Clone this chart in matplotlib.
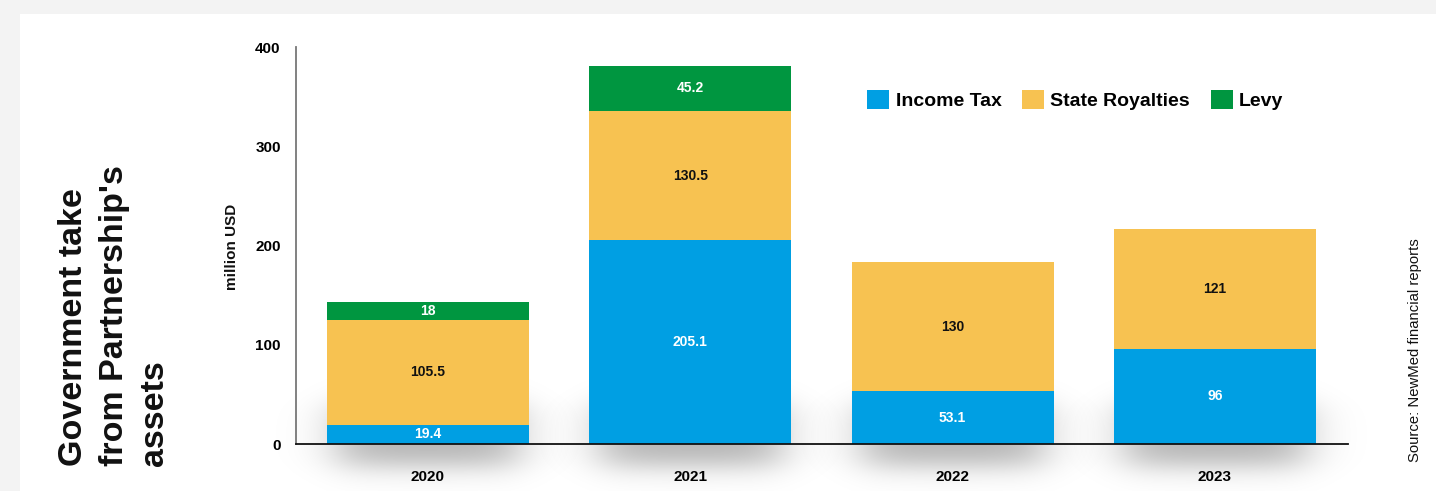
import numpy as np
import matplotlib
matplotlib.use("Agg")
import matplotlib.pyplot as plt
from matplotlib.patches import Rectangle, Patch

plt.rcParams['font.family'] = ['Liberation Sans', 'DejaVu Sans']

# data
years = ['2020', '2021', '2022', '2023']
income_tax = [19.4, 205.1, 53.1, 96]
royalties = [105.5, 130.5, 130, 121]
levy = [18, 45.2, 0, 0]

c_blue = '#009fe3'
c_yellow = '#f7c251'
c_green = '#009640'

fig = plt.figure(figsize=(14.36, 4.91), dpi=100)
fig.patch.set_facecolor('#f3f3f3')
# white card
fig.patches.append(Rectangle((20 / 1436, 0), 1, 1 - 14 / 491, transform=fig.transFigure,
                             facecolor='white', edgecolor='none', zorder=-5))

ax = fig.add_axes([296 / 1436, 1 - 444 / 491, (1348 - 296) / 1436, (444 - 47) / 491])
ax.set_facecolor('none')
ax.set_zorder(2)

x = np.arange(len(years))
w = 0.77

# soft shadow under each bar
def soft(t, a, b, s):
    return 0.25 * (1 + np.tanh((t - a) / s)) * (1 + np.tanh((b - t) / s))

for xi in x:
    gx = np.linspace(xi - 0.7, xi + 0.7, 240)
    gy = np.linspace(-70, 100, 240)
    X, Y = np.meshgrid(gx, gy)
    a = soft(X, xi - w / 2 + 0.04, xi + w / 2 - 0.04, 0.11) * soft(Y, -22, 40, 16)
    img = np.zeros((240, 240, 4))
    img[..., 3] = 0.3 * a
    ax.imshow(img, extent=[gx[0], gx[-1], gy[0], gy[-1]], origin='lower',
              aspect='auto', zorder=0.5, clip_on=False, interpolation='bilinear')

b1 = ax.bar(x, income_tax, w, color=c_blue, zorder=2)
b2 = ax.bar(x, royalties, w, bottom=income_tax, color=c_yellow, zorder=2)
bot3 = [a + b for a, b in zip(income_tax, royalties)]
b3 = ax.bar(x, levy, w, bottom=bot3, color=c_green, zorder=2)

for bars, vals, bottoms, col in [(b1, income_tax, [0] * 4, 'white'),
                                  (b2, royalties, income_tax, '#111111'),
                                  (b3, levy, bot3, 'white')]:
    for rect, v, bt in zip(bars, vals, bottoms):
        if v <= 0:
            continue
        ax.text(rect.get_x() + rect.get_width() / 2, bt + v / 2, '%g' % v,
                ha='center', va='center', color=col, fontsize=10,
                fontweight='bold', zorder=3)

ax.set_xlim(-0.503, 3.507)
ax.set_ylim(0, 400)
ax.set_yticks([0, 100, 200, 300, 400])
ax.set_xticks(x)
ax.set_xticklabels(years)
ax.tick_params(axis='y', length=0, pad=11, labelsize=11)
ax.tick_params(axis='x', length=0, pad=19, labelsize=11)
for lab in ax.get_xticklabels() + ax.get_yticklabels():
    lab.set_fontweight('bold')
ax.spines['top'].set_visible(False)
ax.spines['right'].set_visible(False)
ax.spines['left'].set_color('#777777')
ax.spines['left'].set_linewidth(1.3)
ax.spines['bottom'].set_color('#111111')
ax.spines['bottom'].set_linewidth(1.3)
ax.spines['bottom'].set_zorder(4)

# legend
handles = [Patch(facecolor=c_blue), Patch(facecolor=c_yellow), Patch(facecolor=c_green)]
fig.legend(handles, ['Income Tax', 'State Royalties', 'Levy'], loc='center left',
           bbox_to_anchor=(867 / 1436, 1 - 100 / 491), ncol=3, frameon=False,
           prop={'size': 14, 'weight': 'bold'}, handlelength=1.15, handleheight=1.15,
           handletextpad=0.32, columnspacing=1.05, borderpad=0, borderaxespad=0)

# texts
fig.text(58 / 1436, 1 - 466 / 491, "Government take\nfrom Partnership's\nassets",
         rotation=90, ha='left', va='bottom', multialignment='left',
         fontsize=24.5, fontweight='bold', linespacing=1.4, color='#111111')
fig.text(232 / 1436, 1 - 247 / 491, 'million USD', rotation=90, ha='center',
         va='center', fontsize=11, fontweight='bold', color='#111111')
fig.text(1415 / 1436, 1 - 350 / 491, 'Source: NewMed financial reports', rotation=90,
         ha='center', va='center', fontsize=10.7, color='#111111')

fig.savefig('out.png', dpi=100, facecolor=fig.get_facecolor())
